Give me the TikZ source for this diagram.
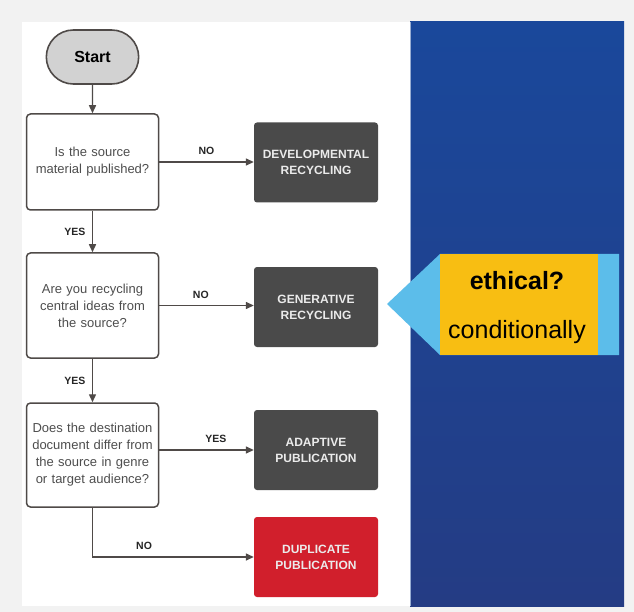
\documentclass[tikz,border=0pt]{standalone}
\usepackage{fontspec}
\setmainfont{Liberation Sans}
\usetikzlibrary{arrows.meta,positioning,shapes.misc}
\definecolor{ink}{HTML}{4F4A48}
\definecolor{qtext}{HTML}{4E4E4E}
\definecolor{startgray}{HTML}{D2D2D2}
\definecolor{slate}{HTML}{4A4A4A}
\definecolor{dupred}{HTML}{D11F2C}
\definecolor{backdrop}{HTML}{F2F2F2}
\definecolor{navytop}{HTML}{1A489B}
\definecolor{navybot}{HTML}{243C84}
\definecolor{sky}{HTML}{5CBDEA}
\definecolor{gold}{HTML}{F8BE12}
\tikzset{
  question/.style={draw=ink,line width=1.5pt,rounded corners=4pt,fill=white,minimum width=132pt,inner sep=1pt,text width=130pt,align=center,text=qtext,font=\fontsize{13}{17}\selectfont},
  outcome/.style={rounded corners=3pt,minimum width=124pt,minimum height=80pt,align=center,text=white!92!black,font=\bfseries\fontsize{12}{16}\selectfont},
  link/.style={draw=ink,line width=1.4pt,-{Triangle[length=8pt,width=7pt]}},
  answer/.style={font=\bfseries\fontsize{10.5}{11}\selectfont,text=black!85}
}
\begin{document}
\begin{tikzpicture}[x=1pt,y=-1pt]
\useasboundingbox (0,0) rectangle (634,612);
% backdrop and the two panels
\fill[backdrop] (0,0) rectangle (634,612);
\fill[white] (22,22) rectangle (410,606);
\shade[top color=navytop,bottom color=navybot] (410,22) rectangle (624,606);
\draw[navytop!45!white,line width=1pt] (410.5,22) -- (410.5,606);
% flowchart
\node[rounded rectangle,draw=ink,line width=1.6pt,fill=startgray,minimum width=99pt,minimum height=54pt,font=\bfseries\fontsize{16}{18}\selectfont] (start) at (92.5,57) {Start};
\node[question,minimum height=96pt] (q1) at (92.5,162) {Is the source\\material published?};
\node[question,minimum height=105pt] (q2) at (92.5,305.5) {Are you recycling\\central ideas from\\the source?};
\node[question,minimum height=104pt] (q3) at (92.5,455) {Does the destination\\document differ from\\the source in genre\\or target audience?};
\node[outcome,fill=slate] (dev) at (316,162.5) {DEVELOPMENTAL\\RECYCLING};
\node[outcome,fill=slate] (gen) at (316,307) {GENERATIVE\\RECYCLING};
\node[outcome,fill=slate] (adapt) at (316,450) {ADAPTIVE\\PUBLICATION};
\node[outcome,fill=dupred] (dup) at (316,557) {DUPLICATE\\PUBLICATION};
\draw[link] (start) -- (q1);
\draw[link] (q1) -- node[answer,left=3pt] {YES} (q2);
\draw[link] (q2) -- node[answer,left=3pt] {YES} (q3);
\draw[link] (q1.east) -- node[answer,above=3pt] {NO} (q1.east -| dev.west);
\draw[link] (q2.east) -- node[answer,above=3pt,pos=0.44] {NO} (q2.east -| gen.west);
\draw[link] (q3.east) ++(0,-5) coordinate (q3out) -- node[answer,above=3pt,pos=0.6] {YES} (q3out -| adapt.west);
\draw[link] (q3.south) |- node[answer,above=3pt,pos=0.66] {NO} (dup.west);
% callout
\fill[sky] (387,304) -- (440,254) -- (619,254) -- (619,355) -- (440,355) -- cycle;
\fill[gold] (440,254) rectangle (598,355);
\node[font=\bfseries\fontsize{25}{25}\selectfont] (ethq) at (517,281) {ethical?};
\node[font=\fontsize{25}{25}\selectfont] (cond) at (517,332) {conditionally};
\end{tikzpicture}
\end{document}
